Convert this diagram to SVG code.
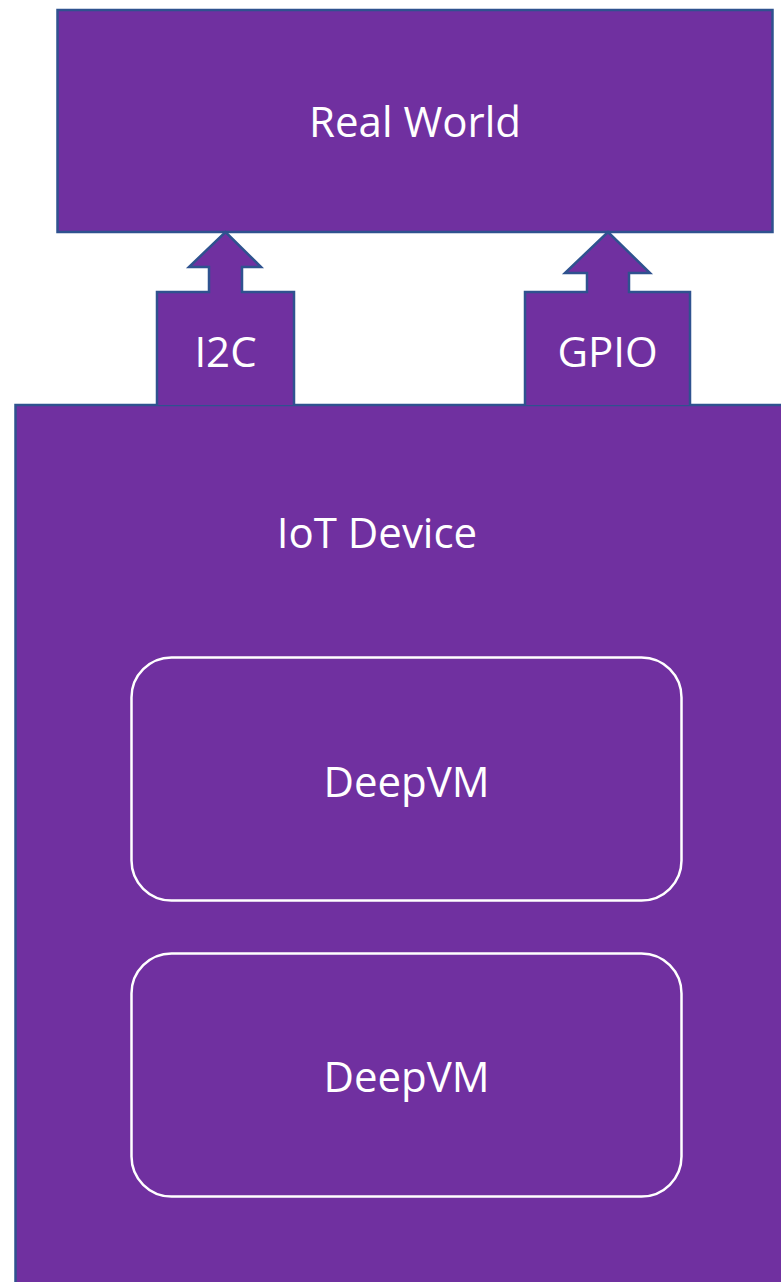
<svg xmlns="http://www.w3.org/2000/svg" width="781" height="1282" viewBox="0 0 781 1282">
<style>
.box{fill:#7030A0;stroke:#2F528F;stroke-width:2.5}
.inner{fill:none;stroke:#FFFFFF;stroke-width:2.5}
.t{fill:#FFFFFF;font-family:"Open Sans","Noto Sans",sans-serif;font-size:42px;text-anchor:middle}
</style>
<rect width="781" height="1282" fill="#FFFFFF"/>
<g id="real-world">
<rect class="box" x="57.5" y="10" width="715" height="222"/>
<text class="t" x="415" y="137">Real World</text>
</g>
<g id="iot-device">
<rect class="box" x="15.5" y="405" width="780" height="900"/>
<text class="t" x="377" y="548">IoT Device</text>
</g>
<g id="connectors">
<g id="i2c">
<path class="box" d="M157,405 L157,292 L209,292 L209,267 L189,267 L225.5,232 L261,267 L242,267 L242,292 L294,292 L294,405"/>
<text class="t" x="225.5" y="367">I2C</text>
</g>
<g id="gpio">
<path class="box" d="M525,405 L525,292 L587,292 L587,273 L565,273 L608,232 L650,273 L629,273 L629,292 L690,292 L690,405"/>
<text class="t" x="607.5" y="367">GPIO</text>
</g>
</g>
<g id="deepvm-1">
<rect class="inner" x="131.5" y="657.5" width="550" height="243" rx="40"/>
<text class="t" x="406.5" y="797">DeepVM</text>
</g>
<g id="deepvm-2">
<rect class="inner" x="131.5" y="953.5" width="550" height="243" rx="40"/>
<text class="t" x="406.5" y="1092">DeepVM</text>
</g>
</svg>
